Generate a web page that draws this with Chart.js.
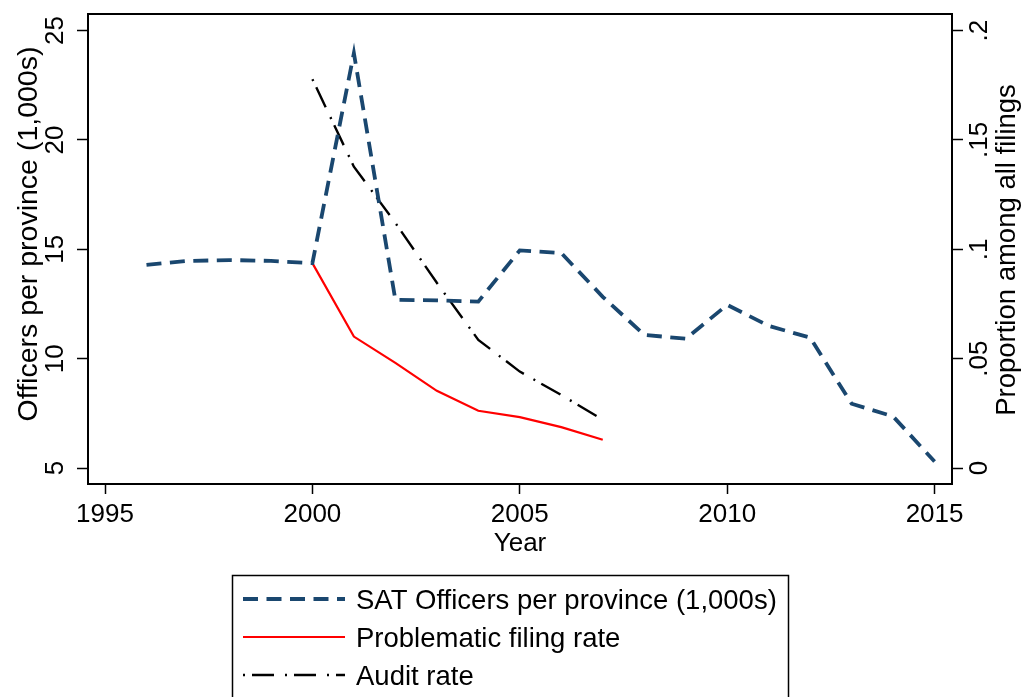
<!DOCTYPE html>
<html>
<head>
<meta charset="utf-8">
<script src="https://cdn.jsdelivr.net/npm/chart.js@4.4.1/dist/chart.umd.min.js"></script>
<style>
  html, body { margin: 0; padding: 0; background: #fff; }
  canvas { display: block; }
</style>
</head>
<body>
<canvas id="chart" width="1026" height="697"></canvas>
<script>
// data
const years = [1996, 1997, 1998, 1999, 2000, 2001, 2002, 2003, 2004, 2005, 2006, 2007, 2008, 2009, 2010, 2011, 2012, 2013, 2014, 2015];
const officers = [14.29, 14.47, 14.51, 14.47, 14.37, 23.97, 12.69, 12.67, 12.61, 14.95, 14.83, 12.83, 11.09, 10.91, 12.46, 11.5, 10.96, 7.94, 7.36, 5.3];

const rateYears = [2000, 2001, 2002, 2003, 2004, 2005, 2006, 2007];
const problematicRate = [0.0937, 0.0601, 0.0481, 0.0353, 0.0262, 0.0233, 0.0187, 0.0129];
const auditRate = [0.1778, 0.1378, 0.1121, 0.0847, 0.0586, 0.0441, 0.0334, 0.0221];

const xTicks = [1995, 2000, 2005, 2010, 2015];
const leftTicks = [5, 10, 15, 20, 25];
const rightTicks = [0, 0.05, 0.1, 0.15, 0.2];
const rightTickLabels = ['0', '.05', '.1', '.15', '.2'];

const leftTitle = 'Officers per province (1,000s)';
const rightTitle = 'Proportion among all filings';
const xTitle = 'Year';

const FONT = "'Liberation Sans', Arial, sans-serif";
Chart.defaults.font.family = FONT;
Chart.defaults.color = '#000';

function pts(xs, ys) {
  return xs.map((x, i) => ({ x: x, y: ys[i] }));
}

// tick labels, titles, frame and the boxed legend
const decorations = {
  id: 'decorations',
  afterDraw(chart) {
    const ctx = chart.ctx;
    const a = chart.chartArea;
    const yL = chart.scales.y;
    const yR = chart.scales.y1;
    ctx.save();

    ctx.strokeStyle = '#000';
    ctx.lineWidth = 2;
    ctx.strokeRect(a.left, a.top, a.right - a.left, a.bottom - a.top);

    ctx.fillStyle = '#000';
    ctx.font = '26px ' + FONT;
    ctx.textAlign = 'center';
    ctx.textBaseline = 'alphabetic';
    leftTicks.forEach(v => {
      ctx.save();
      ctx.translate(63, yL.getPixelForValue(v));
      ctx.rotate(-Math.PI / 2);
      ctx.fillText(String(v), 0, 0);
      ctx.restore();
    });
    rightTicks.forEach((v, i) => {
      ctx.save();
      ctx.translate(987, yR.getPixelForValue(v));
      ctx.rotate(-Math.PI / 2);
      ctx.fillText(rightTickLabels[i], 0, 0);
      ctx.restore();
    });

    ctx.save();
    ctx.font = '28.5px ' + FONT;
    ctx.translate(37, 234);
    ctx.rotate(-Math.PI / 2);
    ctx.fillText(leftTitle, 0, 0);
    ctx.restore();
    ctx.save();
    ctx.font = '27.5px ' + FONT;
    ctx.translate(1015, 250);
    ctx.rotate(-Math.PI / 2);
    ctx.fillText(rightTitle, 0, 0);
    ctx.restore();

    // legend
    ctx.lineWidth = 1.5;
    ctx.strokeStyle = '#000';
    ctx.strokeRect(232.5, 575.5, 556, 140);
    const rowY = [599, 637, 675];
    ctx.font = '27.5px ' + FONT;
    ctx.textAlign = 'left';
    ctx.textBaseline = 'middle';
    chart.data.datasets.forEach((ds, i) => {
      ctx.save();
      ctx.strokeStyle = ds.borderColor;
      ctx.lineWidth = ds.borderWidth;
      ctx.setLineDash(ds.borderDash || []);
      ctx.lineDashOffset = ds.borderDashOffset || 0;
      ctx.beginPath();
      ctx.moveTo(243, rowY[i]);
      ctx.lineTo(345, rowY[i]);
      ctx.stroke();
      ctx.restore();
      ctx.fillText(ds.label, 356, rowY[i] + 2);
    });
    ctx.restore();
  }
};

new Chart(document.getElementById('chart'), {
  type: 'line',
  data: {
    datasets: [{
      label: 'SAT Officers per province (1,000s)',
      data: pts(years, officers),
      yAxisID: 'y',
      borderColor: '#1a476f',
      borderWidth: 3.8,
      borderDash: [15, 8.5],
      pointRadius: 0,
      tension: 0
    }, {
      label: 'Problematic filing rate',
      data: pts(rateYears, problematicRate),
      yAxisID: 'y1',
      borderColor: '#ff0000',
      borderWidth: 2.2,
      pointRadius: 0,
      tension: 0
    }, {
      label: 'Audit rate',
      data: pts(rateYears, auditRate),
      yAxisID: 'y1',
      borderColor: '#000000',
      borderWidth: 2.4,
      borderDash: [22, 11, 2, 7],
      borderDashOffset: 33,
      pointRadius: 0,
      tension: 0
    }]
  },
  options: {
    responsive: false,
    animation: false,
    devicePixelRatio: 1,
    layout: { padding: { top: 14, bottom: 137, left: 0, right: 0 } },
    plugins: {
      legend: { display: false },
      tooltip: { enabled: false }
    },
    scales: {
      x: {
        type: 'linear',
        position: 'bottom',
        min: 1994.59,
        max: 2015.42,
        afterBuildTicks: s => { s.ticks = xTicks.map(v => ({ value: v })); },
        afterFit: s => { s.height = 76; },
        ticks: {
          font: { size: 26 },
          color: '#000',
          padding: 5,
          maxRotation: 0,
          callback: v => String(v)
        },
        grid: { drawOnChartArea: false, tickLength: 10, tickColor: '#000', tickWidth: 1.5 },
        border: { display: false },
        title: { display: true, text: xTitle, font: { size: 26 }, color: '#000', padding: { top: 0, bottom: 1 } }
      },
      y: {
        type: 'linear',
        position: 'left',
        min: 4.27,
        max: 25.76,
        afterBuildTicks: s => { s.ticks = leftTicks.map(v => ({ value: v })); },
        afterFit: s => { s.width = 88; },
        ticks: { display: false },
        grid: { drawOnChartArea: false, tickLength: 11, tickColor: '#000', tickWidth: 1.5 },
        border: { display: false }
      },
      y1: {
        type: 'linear',
        position: 'right',
        min: -0.0073,
        max: 0.2076,
        afterBuildTicks: s => { s.ticks = rightTicks.map(v => ({ value: v })); },
        afterFit: s => { s.width = 74; },
        ticks: { display: false },
        grid: { drawOnChartArea: false, tickLength: 11, tickColor: '#000', tickWidth: 1.5 },
        border: { display: false }
      }
    }
  },
  plugins: [decorations]
});
</script>
</body>
</html>
